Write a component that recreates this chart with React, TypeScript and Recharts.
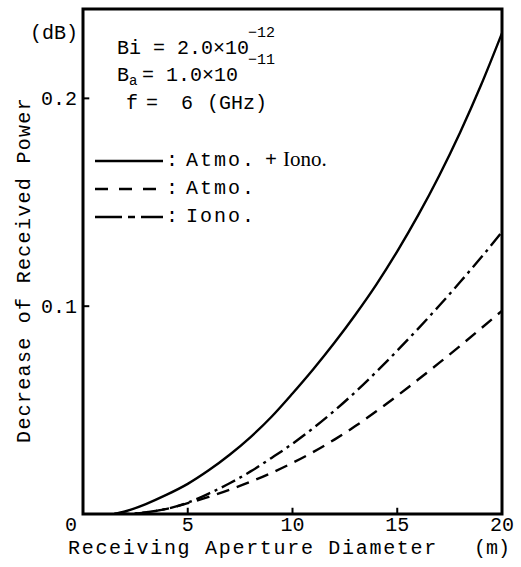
import { LineChart, Line, XAxis, YAxis, ReferenceArea, ReferenceLine } from "recharts";

// Receiving aperture diameter (m)
const diameters = [1.5, 2, 3, 4, 5, 6, 7, 8, 9, 10, 11, 12, 13, 14, 15, 16, 17, 18, 19, 20];
// Decrease of received power (dB)
const combined = [0, 0.0012, 0.0048, 0.0093, 0.0145, 0.021, 0.0285, 0.037, 0.0468, 0.058, 0.0698, 0.0824, 0.0959, 0.1104, 0.1264, 0.1438, 0.1628, 0.1836, 0.2064, 0.2314];
const atmo = [0, 0, 0.0008, 0.0025, 0.0052, 0.0082, 0.0117, 0.0155, 0.0198, 0.0246, 0.0299, 0.0358, 0.0423, 0.0494, 0.0569, 0.0647, 0.0727, 0.0809, 0.0893, 0.0978];
const iono = [0, 0, 0.0008, 0.0025, 0.0055, 0.0098, 0.0148, 0.0205, 0.027, 0.0338, 0.0414, 0.0497, 0.0587, 0.0684, 0.0786, 0.0892, 0.1002, 0.1116, 0.1234, 0.1357];

const xTicks = [0, 5, 10, 15, 20];
const yTicks = [0.1, 0.2];
const innerXTicks = [5, 10, 15];

const MONO = "'Liberation Mono', 'DejaVu Sans Mono', monospace";
const SERIF = "'Liberation Serif', serif";

const data = diameters.map((d, i) => ({ d, combined: combined[i], atmo: atmo[i], iono: iono[i] }));

// eslint-disable-next-line @typescript-eslint/no-explicit-any
function XTick({ x, y, payload }: any) {
  const shift = payload.value === 0 ? -12 : 0;
  return (
    <text x={x + shift} y={y} dy="0.71em" textAnchor="middle" fill="#000" fontSize={20} fontFamily={MONO}>
      {payload.value}
    </text>
  );
}

export default function App() {
  return (
    <div style={{ position: "fixed", left: 0, top: 0, width: 521, height: 567, background: "#fff" }}>
      <LineChart width={521} height={567} data={data} margin={{ top: 9, right: 19, bottom: 23, left: 23 }}>
        <XAxis
          dataKey="d"
          type="number"
          domain={[0, 20]}
          ticks={xTicks}
          height={30}
          tickLine={false}
          axisLine={false}
          tickSize={0}
          tickMargin={3}
          tick={<XTick />}
        />
        <YAxis
          type="number"
          domain={[0, 0.243]}
          ticks={yTicks}
          width={60}
          allowDataOverflow
          tickLine={false}
          axisLine={false}
          tickSize={0}
          tickMargin={6}
          tick={{ fill: "#000", fontSize: 20, fontFamily: MONO }}
        />
        <Line type="monotone" dataKey="combined" stroke="#000" strokeWidth={2.4} dot={false} isAnimationActive={false} />
        <Line type="monotone" dataKey="atmo" stroke="#000" strokeWidth={2.4} strokeDasharray="13 8" dot={false} isAnimationActive={false} />
        <Line type="monotone" dataKey="iono" stroke="#000" strokeWidth={2.4} strokeDasharray="15 5 3 5" dot={false} isAnimationActive={false} />
        {innerXTicks.map((t) => (
          <ReferenceLine key={`xt${t}`} segment={[{ x: t, y: 0 }, { x: t, y: 0.003 }]} stroke="#000" strokeWidth={2} />
        ))}
        {yTicks.map((t) => (
          <ReferenceLine key={`yt${t}`} segment={[{ x: 0, y: t }, { x: 0.3, y: t }]} stroke="#000" strokeWidth={2} />
        ))}
        <ReferenceArea x1={0} x2={20} y1={0} y2={0.243} fill="none" stroke="#000" strokeWidth={3} />
      </LineChart>
      <svg width={521} height={567} style={{ position: "absolute", left: 0, top: 0, pointerEvents: "none" }}>
        <g fill="#000" fontFamily={MONO} fontSize={20}>
          <text x={30} y={39}>(dB)</text>
          <text transform="translate(24,270) rotate(-90)" textAnchor="middle" dominantBaseline="central" letterSpacing={1.3}>
            Decrease of Received Power
          </text>
          <text x={68} y={554} letterSpacing={1.7}>Receiving Aperture Diameter</text>
          <text x={474} y={554}>(m)</text>

          <text x={117} y={54}>Bi = 2.0×10</text>
          <text x={248} y={37} fontSize={15}>−12</text>
          <text x={117} y={81}>B</text>
          <text x={129} y={85} fontSize={14}>a</text>
          <text x={142} y={81}>= 1.0×10</text>
          <text x={248} y={64} fontSize={15}>−11</text>
          <text x={126} y={109}>f</text>
          <text x={146} y={109}>=</text>
          <text x={181} y={109}>6</text>
          <text x={207} y={109}>(GHz)</text>

          <line x1={95} y1={161} x2={163} y2={161} stroke="#000" strokeWidth={2.4} />
          <text x={166} y={166}>:</text>
          <text x={186} y={166} letterSpacing={2}>Atmo.</text>
          <text x={265} y={166}>+</text>
          <text x={283} y={166} fontFamily={SERIF} fontSize={21}>Iono.</text>

          <line x1={95} y1={189} x2={163} y2={189} stroke="#000" strokeWidth={2.4} strokeDasharray="13 11" />
          <text x={166} y={194}>:</text>
          <text x={186} y={194} letterSpacing={2}>Atmo.</text>

          <line x1={95} y1={217} x2={163} y2={217} stroke="#000" strokeWidth={2.4} strokeDasharray="27 6 7 6 25" />
          <text x={166} y={222}>:</text>
          <text x={186} y={222} letterSpacing={2}>Iono.</text>
        </g>
      </svg>
    </div>
  );
}
